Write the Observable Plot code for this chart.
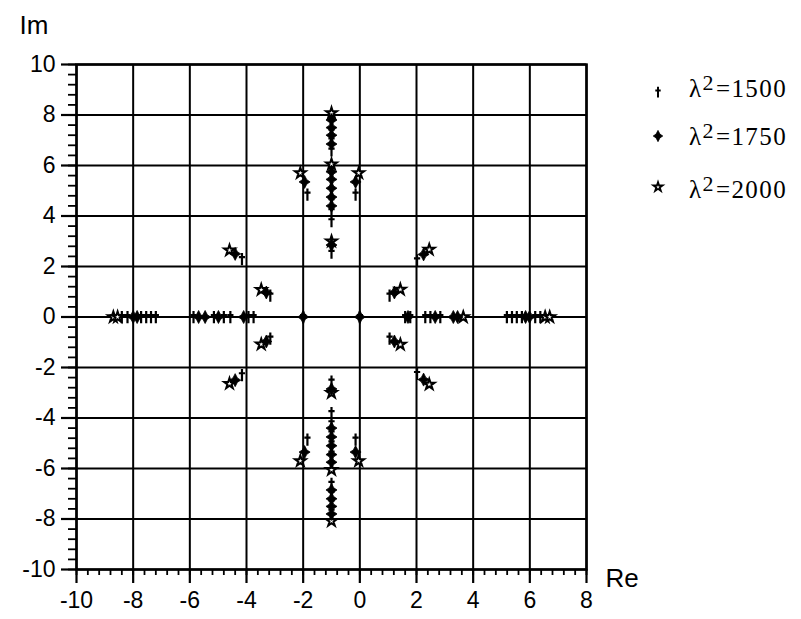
<!DOCTYPE html>
<html>
<head>
<meta charset="utf-8">
<script src="https://cdn.jsdelivr.net/npm/d3@7"></script>
<script src="https://cdn.jsdelivr.net/npm/@observablehq/plot@0.6"></script>
<style>
  html, body { margin: 0; padding: 0; background: #fff; }
  #wrap { position: relative; width: 801px; height: 619px; overflow: hidden; }
  .leg { position: absolute; font-family: "Liberation Serif", "Times New Roman", serif; font-size: 25px; line-height: 25px; color: #000; letter-spacing: 1.4px; white-space: nowrap; }
  .leg .sup { position: relative; top: -7px; font-size: 22px; margin-right: 1px; }
  .legmark { position: absolute; }
</style>
</head>
<body>
<div id="wrap"></div>
<script>
// Eigenvalues (Re, Im) for each λ² value
const roots1500 = [
  [-8.4,0],[-8.2,0],[-7.72,0],[-7.54,0],[-7.37,0],[-7.2,0],
  [-5.87,0],[-5.15,0],[-4.8,0],[-4.57,0],[-3.93,0],[-3.75,0],
  [-2,0],[0,0],[1.6,0],[1.78,0],[2.31,0],[2.49,0],[2.84,0],
  [5.19,0],[5.37,0],[5.54,0],[5.72,0],[6.19,0],[6.37,0],
  [-1,2.55],[-1,-2.55],[-1,3.8],[-1,-3.8],[-1,4.2],[-1,-4.2],[-1,4.6],[-1,-4.6],
  [-1,5.0],[-1,-5.0],[-1,5.4],[-1,-5.4],[-1,6.6],[-1,-6.6],[-1,7.0],[-1,-7.0],
  [-1,7.35],[-1,-7.35],[-1,7.7],[-1,-7.7],
  [-1.85,4.85],[-1.85,-4.85],[-0.15,4.85],[-0.15,-4.85],
  [-4.16,2.3],[-4.16,-2.3],[-3.16,0.85],[-3.16,-0.85],
  [1.05,0.85],[1.05,-0.85],[2.02,2.25],[2.02,-2.25]
];
const roots1750 = [
  [-8.0,0],[-7.86,0],[-5.69,0],[-5.46,0],[-4.99,0],[-4.1,0],
  [-2,0],[0,0],[1.7,0],[2.66,0],[3.3,0],[3.45,0],[5.85,0],[5.99,0],
  [-1,2.85],[-1,-2.85],[-1,4.4],[-1,-4.4],[-1,4.75],[-1,-4.75],[-1,5.1],[-1,-5.1],
  [-1,5.45],[-1,-5.45],[-1,5.75],[-1,-5.75],[-1,6.85],[-1,-6.85],[-1,7.2],[-1,-7.2],
  [-1,7.5],[-1,-7.5],[-1,7.8],[-1,-7.8],
  [-1.95,5.35],[-1.95,-5.35],[-0.15,5.35],[-0.15,-5.35],
  [-4.4,2.5],[-4.4,-2.5],[-3.3,0.97],[-3.3,-0.97],
  [1.22,0.97],[1.22,-0.97],[2.25,2.48],[2.25,-2.48]
];
const roots2000 = [
  [-8.7,0],[-8.55,0],[3.65,0],[6.54,0],[6.7,0],
  [-1,3.0],[-1,-3.0],[-1,6.05],[-1,-6.05],[-1,8.08],[-1,-8.08],
  [-2.1,5.7],[-2.1,-5.7],[-0.04,5.7],[-0.04,-5.7],
  [-4.6,2.64],[-4.6,-2.64],[-3.48,1.08],[-3.48,-1.08],
  [1.43,1.09],[1.43,-1.09],[2.45,2.67],[2.45,-2.67]
];
const seriesLabels = ["1500", "1750", "2000"];
const xMajor = [-10,-8,-6,-4,-2,0,2,4,6,8];
const yMajor = [-10,-8,-6,-4,-2,0,2,4,6,8,10];
const xMinor = d3.range(-10, 8.001, 0.4).map(v => +v.toFixed(1));
const yMinor = d3.range(-10, 10.001, 0.4).map(v => +v.toFixed(1));

// custom symbols
const dagger = {
  draw(ctx, size) {
    const s = Math.sqrt(size / Math.PI);
    ctx.moveTo(0, -s * 1.15); ctx.lineTo(0, s * 1.2);
    ctx.moveTo(-s * 0.6, -s * 0.35); ctx.lineTo(s * 0.6, -s * 0.35);
  }
};
const star4 = {
  draw(ctx, size) {
    const s = Math.sqrt(size / Math.PI) * 1.25, w = s * 0.34;
    ctx.moveTo(0, -s); ctx.lineTo(w, -w); ctx.lineTo(s * 0.85, 0); ctx.lineTo(w, w);
    ctx.lineTo(0, s); ctx.lineTo(-w, w); ctx.lineTo(-s * 0.85, 0); ctx.lineTo(-w, -w);
    ctx.closePath();
  }
};
const star5 = {
  draw(ctx, size) { d3.symbolStar.draw(ctx, size * 0.42); }
};

const chart = Plot.plot({
  width: 801, height: 619,
  marginLeft: 76, marginRight: 215, marginTop: 64, marginBottom: 50,
  x: {domain: [-10, 8]},
  y: {domain: [-10, 10]},
  style: {fontFamily: "'Liberation Sans', Arial, sans-serif", fontSize: "22px", color: "#000", background: "transparent"},
  marks: [
    Plot.gridX(xMajor, {stroke: "#000", strokeOpacity: 1, strokeWidth: 2}),
    Plot.gridY(yMajor, {stroke: "#000", strokeOpacity: 1, strokeWidth: 2}),
    Plot.axisX(xMinor, {tickSize: 6, tickFormat: () => "", strokeWidth: 1.8, label: null}),
    Plot.axisY(yMinor, {tickSize: 8, tickFormat: () => "", strokeWidth: 1.8, label: null}),
    Plot.axisX(xMajor, {tickSize: 14, tickPadding: 8, tickFormat: d => String(d), strokeWidth: 2.2, fontSize: 23, label: null}),
    Plot.axisY(yMajor, {tickSize: 15, tickPadding: 6, tickFormat: d => String(d), strokeWidth: 2.2, fontSize: 23, label: null}),
    Plot.frame({stroke: "#000", strokeWidth: 2.5}),
    Plot.dot(roots1500, {x: d => d[0], y: d => d[1], symbol: dagger, r: 5.2, fill: "none", stroke: "#000", strokeWidth: 2.2}),
    Plot.dot(roots2000, {x: d => d[0], y: d => d[1], symbol: star5, r: 5.2, fill: "#fff", stroke: "#000", strokeWidth: 2}),
    Plot.dot(roots1750, {x: d => d[0], y: d => d[1], symbol: star4, r: 5.2, fill: "#000", stroke: "#000", strokeWidth: 0.8}),
    Plot.text(["Im"], {frameAnchor: "top-left", dx: -57, dy: -31, textAnchor: "start", lineAnchor: "bottom", fontSize: 26, fill: "#000", letterSpacing: "5px"}),
    Plot.text(["Re"], {frameAnchor: "bottom-right", dx: 19, dy: 9, textAnchor: "start", lineAnchor: "middle", fontSize: 26, fill: "#000", letterSpacing: "2px"})
  ]
});
const wrap = document.getElementById("wrap");
wrap.appendChild(chart);

// legend
const legRows = [
  {label: seriesLabels[0], sym: dagger, fill: "none", sw: 2, cy: 92, base: 97},
  {label: seriesLabels[1], sym: star4, fill: "#000", sw: 0.8, cy: 136, base: 145},
  {label: seriesLabels[2], sym: star5, fill: "#fff", sw: 1.8, cy: 187, base: 198}
];
for (const row of legRows) {
  const svg = d3.create("svg").attr("class", "legmark").attr("width", 20).attr("height", 20)
    .style("left", (658 - 10) + "px").style("top", (row.cy - 10) + "px");
  svg.append("path").attr("transform", "translate(10,10)")
    .attr("d", d3.symbol(row.sym, 4.5 * 4.5 * Math.PI)())
    .attr("fill", row.fill).attr("stroke", "#000").attr("stroke-width", row.sw);
  wrap.appendChild(svg.node());
  const div = document.createElement("div");
  div.className = "leg";
  div.style.left = "689px";
  div.style.top = (row.base - 21) + "px";
  div.innerHTML = 'λ<span class="sup">2</span>=' + row.label;
  wrap.appendChild(div);
}
</script>
</body>
</html>
